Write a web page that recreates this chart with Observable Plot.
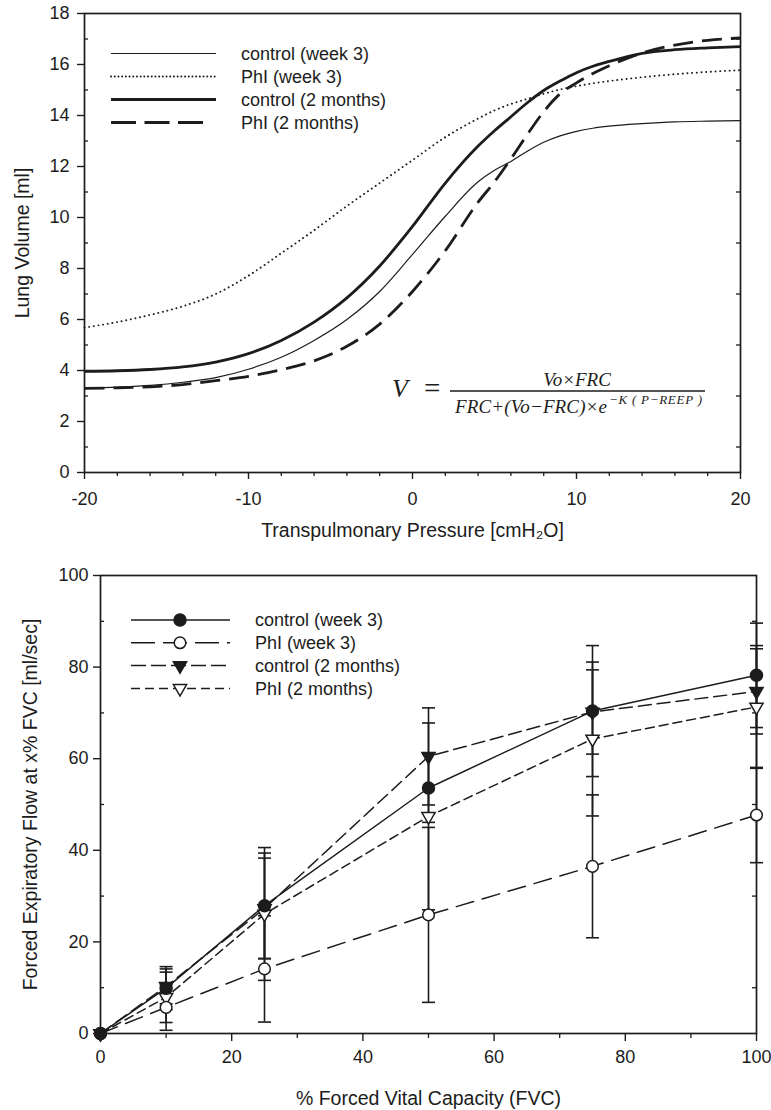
<!DOCTYPE html>
<html><head><meta charset="utf-8">
<script src="https://cdn.jsdelivr.net/npm/d3@7"></script>
<script src="https://cdn.jsdelivr.net/npm/@observablehq/plot@0.6"></script>
<style>
body{margin:0;background:#fff;}
#chart{width:771px;}
#chart svg{display:block;}
</style></head><body><div id="chart"></div>
<script>
// ---------- Top chart data ----------
const pressure   = [-20,-18,-16,-14,-12,-10,-8,-6,-4,-2,0,2,4,5,6,7,8,9,10,11,12,14,16,18,20];
const ctrlWeek3  = [3.30,3.35,3.42,3.54,3.72,4.05,4.52,5.18,6.00,7.10,8.55,10.05,11.40,11.85,12.20,12.60,12.95,13.20,13.38,13.50,13.58,13.68,13.75,13.78,13.80];
const phiWeek3   = [5.68,5.90,6.18,6.52,7.00,7.72,8.60,9.50,10.45,11.35,12.25,13.15,13.88,14.20,14.45,14.65,14.85,15.02,15.15,15.26,15.35,15.50,15.62,15.71,15.78];
const ctrl2Month = [3.97,3.99,4.04,4.14,4.33,4.66,5.18,5.90,6.85,8.10,9.65,11.35,12.80,13.40,13.95,14.50,14.98,15.35,15.68,15.93,16.12,16.44,16.58,16.65,16.70];
const phi2Month  = [3.30,3.32,3.36,3.45,3.60,3.77,4.03,4.38,4.95,5.82,7.10,8.70,10.60,11.40,12.30,13.25,14.15,14.85,15.28,15.65,15.95,16.45,16.76,16.95,17.04];
const topSeriesNames = ["control (week 3)","PhI (week 3)","control (2 months)","PhI (2 months)"];
const topYMajor = [0,2,4,6,8,10,12,14,16,18];
const topYMinor = [1,3,5,7,9,11,13,15,17];
const topXMajor = [-20,-10,0,10,20];
const topXMinor = [-18,-16,-14,-12,-8,-6,-4,-2,2,4,6,8,12,14,16,18];

// ---------- Bottom chart data ----------
const fvcPct      = [0,10,25,50,75,100];
const flowCtrlW3  = [0,9.9,27.9,53.6,70.4,78.2];
const sdCtrlW3    = [0,4.7,11.5,7.5,14.3,11.4];
const flowPhiW3   = [0,5.7,14.1,25.9,36.5,47.7];
const sdPhiW3     = [0,5.0,11.6,19.1,15.6,10.4];
const flowCtrl2M  = [0,10.3,27.3,60.5,70.2,74.7];
const sdCtrl2M    = [0,3.8,11.0,10.6,9.2,9.3];
const flowPhi2M   = [0,7.9,26.1,47.4,64.3,71.3];
const sdPhi2M     = [0,5.5,14.5,20.4,16.8,13.4];
const botSeriesNames = ["control (week 3)","PhI (week 3)","control (2 months)","PhI (2 months)"];
const botYMajor = [0,20,40,60,80,100];
const botYMinor = [10,30,50,70,90];
const botXMajor = [0,20,40,60,80,100];
const botXMinor = [10,30,50,70,90];

const FONT = "'Liberation Sans', Arial, Helvetica, sans-serif";
const INK = "#1c1c1c";

// ---------- Top chart ----------
const topStyles = [
  {width:1.2, dash:null, cap:"butt", legendDash:null},
  {width:1.9, dash:"0.1,4.6", cap:"round", legendDash:"0.1,3.6"},
  {width:2.8, dash:null, cap:"butt", legendDash:null},
  {width:2.8, dash:"20,9", cap:"butt", legendDash:"25,8.5"}
];
const topValues = [ctrlWeek3, phiWeek3, ctrl2Month, phi2Month];
const topTables = topValues.map(vals => pressure.map((p,i)=>({p, v: vals[i]})));

const W = 771;
const topPlot = Plot.plot({
  width: W, height: 545,
  marginLeft: 84, marginRight: 31, marginTop: 13, marginBottom: 73,
  style: {fontFamily: FONT, color: INK, background: "#fff", overflow: "visible"},
  x: {domain: [-20, 20]},
  y: {domain: [0, 18]},
  marks: [
    ...topTables.map((t,k) => Plot.line(t, {x:"p", y:"v", stroke: INK, strokeWidth: topStyles[k].width,
        strokeDasharray: topStyles[k].dash, strokeLinecap: topStyles[k].cap, curve: "monotone-x"})),
    Plot.frame({stroke: INK, strokeWidth: 1.7}),
    Plot.axisY({ticks: topYMajor, tickSize: 7, tickPadding: 8, fontSize: 18, tickFormat: d=>String(d), label: null, strokeWidth: 1.4}),
    Plot.tickY(topYMinor, {y: d=>d, insetRight: 652, stroke: INK, strokeWidth: 1.3}),
    Plot.tickY(topYMinor, {y: d=>d, insetLeft: 652, stroke: INK, strokeWidth: 1.3}),
    Plot.axisX({ticks: topXMajor, tickSize: 7, tickPadding: 13, fontSize: 18, tickFormat: d=>String(d), label: null, strokeWidth: 1.4}),
    Plot.axisX({ticks: topXMinor, tickSize: 4, text: null, label: null, strokeWidth: 1.3}),
    Plot.text(["Transpulmonary Pressure [cmH₂O]"], {text: d=>d, frameAnchor: "bottom", dy: 58, lineAnchor: "middle", textAnchor: "middle", fontSize: 19.5, fill: INK}),
    Plot.text(["Lung Volume [ml]"], {text: d=>d, frameAnchor: "left", dx: -62, rotate: -90, textAnchor: "middle", lineAnchor: "middle", fontSize: 19.5, fill: INK})
  ]
});

// Legend (top)
{
  const svg = d3.select(topPlot);
  const g = svg.append("g").attr("font-family", FONT).attr("font-size", 18).attr("fill", INK).attr("text-anchor", "start");
  topSeriesNames.forEach((name, i) => {
    const y = 53.5 + i*23;
    const s = topStyles[i];
    g.append("line").attr("x1", 111).attr("x2", i===3 ? 204 : 216).attr("y1", y).attr("y2", y)
      .attr("stroke", INK).attr("stroke-width", s.width)
      .attr("stroke-dasharray", s.legendDash).attr("stroke-linecap", s.cap);
    g.append("text").attr("x", 241).attr("y", y).attr("dy", "0.35em").text(name);
  });
  // Formula
  const f = svg.append("g").attr("font-family", "'Liberation Serif','Times New Roman',serif").attr("fill", INK).attr("text-anchor", "start");
  f.append("text").attr("x", 392).attr("y", 397).attr("font-size", 26).attr("font-style","italic").text("V");
  f.append("text").attr("x", 424).attr("y", 398).attr("font-size", 29).text("=");
  f.append("line").attr("x1", 450).attr("x2", 705).attr("y1", 391).attr("y2", 391).attr("stroke", INK).attr("stroke-width", 1.3);
  f.append("text").attr("x", 577).attr("y", 386).attr("text-anchor","middle").attr("font-size", 19).attr("font-style","italic").text("Vo×FRC");
  f.append("text").attr("x", 455).attr("y", 413).attr("font-size", 19).attr("font-style","italic").attr("textLength", 152).text("FRC+(Vo−FRC)×e");
  f.append("text").attr("x", 609).attr("y", 404).attr("font-size", 13).attr("font-style","italic").attr("textLength", 93).text("−K ( P−REEP )");
}

// ---------- Bottom chart ----------
const capSymbol = {draw(ctx, size){ const r = Math.sqrt(size/Math.PI); ctx.moveTo(-r,0); ctx.lineTo(r,0); }};
const downTri = {draw(ctx, size){ const r = Math.sqrt(size/Math.PI); const s = 2.2*r, h = s*Math.sqrt(3)/2;
  ctx.moveTo(-s/2, -h/3); ctx.lineTo(s/2, -h/3); ctx.lineTo(0, 2*h/3); ctx.closePath(); }};

const botStyles = [
  {dash:null, symbol:"circle", fill:INK, r:6},
  {dash:"18,9", symbol:"circle", fill:"#fff", r:5.8},
  {dash:"13,6", symbol:downTri, fill:INK, r:6},
  {dash:"9,5", symbol:downTri, fill:"#fff", r:6}
];
const legendDashes = [null, "24,8", "15,5", "9,5"];
const botVals = [flowCtrlW3, flowPhiW3, flowCtrl2M, flowPhi2M];
const botSds  = [sdCtrlW3, sdPhiW3, sdCtrl2M, sdPhi2M];
const botTables = botVals.map((vals,k) => fvcPct.map((x,i)=>({x, y: vals[i], lo: vals[i]-botSds[k][i], hi: vals[i]+botSds[k][i], sd: botSds[k][i]})));
const drawOrder = [2,3,1,0];

const botPlot = Plot.plot({
  width: W, height: 565,
  marginLeft: 100, marginRight: 15, marginTop: 30, marginBottom: 77,
  style: {fontFamily: FONT, color: INK, background: "#fff", overflow: "visible"},
  x: {domain: [0, 100]},
  y: {domain: [0, 100]},
  marks: [
    ...drawOrder.map(k => Plot.line(botTables[k], {x:"x", y:"y", stroke: INK, strokeWidth: 1.5, strokeDasharray: botStyles[k].dash})),
    ...drawOrder.map(k => Plot.ruleX(botTables[k].filter(d=>d.sd>0), {x:"x", y1:"lo", y2:"hi", stroke: INK, strokeWidth: 1.6})),
    ...drawOrder.map(k => Plot.dot(botTables[k].filter(d=>d.sd>0), {x:"x", y:"hi", symbol: capSymbol, r: 6.5, fill: "none", stroke: INK, strokeWidth: 1.6})),
    ...drawOrder.map(k => Plot.dot(botTables[k].filter(d=>d.sd>0), {x:"x", y:"lo", symbol: capSymbol, r: 6.5, fill: "none", stroke: INK, strokeWidth: 1.6})),
    Plot.frame({stroke: INK, strokeWidth: 1.7}),
    ...drawOrder.map(k => Plot.dot(botTables[k], {x:"x", y:"y", symbol: botStyles[k].symbol, r: botStyles[k].r, fill: botStyles[k].fill, stroke: INK, strokeWidth: 1.5})),
    Plot.axisY({ticks: botYMajor, tickSize: 7, tickPadding: 5, fontSize: 18, tickFormat: d=>String(d), label: null, strokeWidth: 1.4}),
    Plot.tickY(botYMinor, {y: d=>d, insetRight: 652, stroke: INK, strokeWidth: 1.3}),
    Plot.tickY(botYMinor, {y: d=>d, insetLeft: 652, stroke: INK, strokeWidth: 1.3}),
    Plot.axisX({ticks: botXMajor, tickSize: 8, tickPadding: 9, fontSize: 18, tickFormat: d=>String(d), label: null, strokeWidth: 1.4}),
    Plot.axisX({ticks: botXMinor, tickSize: 5, text: null, label: null, strokeWidth: 1.3}),
    Plot.text(["% Forced Vital Capacity (FVC)"], {text: d=>d, frameAnchor: "bottom", dy: 65, lineAnchor: "middle", textAnchor: "middle", fontSize: 19.5, fill: INK}),
    Plot.text(["Forced Expiratory Flow at x% FVC [ml/sec]"], {text: d=>d, frameAnchor: "left", dx: -70, rotate: -90, textAnchor: "middle", lineAnchor: "middle", fontSize: 19.5, fill: INK})
  ]
});

// Legend (bottom)
{
  const svg = d3.select(botPlot);
  const g = svg.append("g").attr("font-family", FONT).attr("font-size", 18).attr("fill", INK).attr("text-anchor", "start");
  botSeriesNames.forEach((name, i) => {
    const y = 75 + i*22.8;
    const s = botStyles[i];
    g.append("line").attr("x1", 131).attr("x2", 230).attr("y1", y).attr("y2", y)
      .attr("stroke", INK).attr("stroke-width", 1.5).attr("stroke-dasharray", legendDashes[i]);
    const sym = typeof s.symbol === "string" ? d3.symbolCircle : s.symbol;
    g.append("path").attr("transform", `translate(180,${y})`)
      .attr("d", d3.symbol(sym, s.r*s.r*Math.PI)())
      .attr("fill", s.fill).attr("stroke", INK).attr("stroke-width", 1.5);
    g.append("text").attr("x", 255).attr("y", y).attr("dy", "0.35em").text(name);
  });
}

const chart = document.getElementById("chart");
chart.appendChild(topPlot);
chart.appendChild(botPlot);
</script>
</body></html>
